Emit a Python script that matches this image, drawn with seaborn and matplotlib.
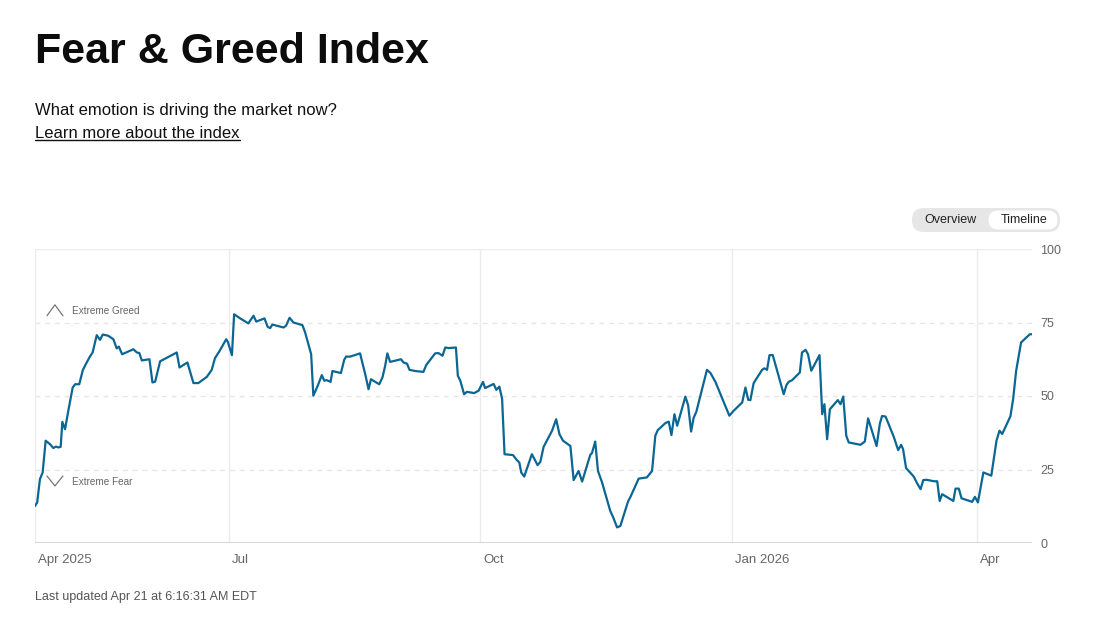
import pandas as pd
import numpy as np
import seaborn as sns
import matplotlib.pyplot as plt
from matplotlib.patches import FancyBboxPatch
from matplotlib.lines import Line2D
import matplotlib.transforms as mtransforms

# Data: days since 2025-04-21 and the index value
start = pd.Timestamp('2025-04-21')
days = [0.0, 0.8, 1.8, 2.8, 3.9, 5.5, 6.7, 7.7, 8.5, 9.4, 10.0, 11.0, 12.2, 13.8, 14.7, 16.2,
        17.5, 18.7, 20.1, 21.1, 22.6, 23.8, 24.8, 26.8, 28.7, 29.9, 30.7, 31.9, 36.0, 37.3,
        38.2, 39.1, 41.9, 43.0, 44.0, 45.8, 51.9, 52.9, 55.8, 58.0, 59.8, 62.9, 64.7, 65.9,
        67.5, 70.0, 70.6, 72.1, 72.9, 75.1, 78.1, 80.0, 81.0, 84.0, 85.2, 86.1, 86.9, 91.0,
        91.9, 93.2, 94.6, 97.9, 98.9, 100.1, 101.1, 101.9, 103.6, 105.0, 105.9, 106.8, 108.2,
        108.9, 112.0, 113.2, 113.9, 115.4, 119.0, 120.9, 122.1, 123.0, 126.0, 127.2, 128.2,
        129.0, 130.0, 134.0, 134.9, 136.2, 137.1, 139.2, 142.2, 143.2, 146.5, 147.7, 149.2,
        150.2, 151.4, 154.1, 154.8, 155.7, 157.1, 158.1, 160.8, 162.4, 164.0, 164.8, 167.9,
        168.9, 170.0, 171.0, 171.9, 175.0, 176.4, 177.3, 178.0, 179.1, 181.9, 184.0, 185.0,
        186.2, 189.3, 190.8, 192.0, 193.3, 196.0, 197.2, 199.0, 200.3, 203.3, 203.9, 205.1,
        206.1, 207.6, 210.6, 211.6, 213.1, 214.3, 217.1, 217.9, 221.0, 224.0, 225.9, 227.1,
        228.0, 230.8, 232.0, 233.0, 234.1, 235.1, 238.1, 239.1, 240.2, 241.1, 242.1, 246.0,
        247.3, 249.1, 254.2, 255.8, 258.9, 260.1, 261.1, 261.9, 263.1, 266.2, 267.0, 268.0,
        268.9, 270.1, 274.1, 275.1, 275.9, 277.2, 280.0, 280.8, 282.1, 283.0, 284.2, 287.2,
        288.2, 289.0, 290.0, 291.0, 293.9, 294.9, 295.9, 297.0, 297.9, 302.2, 303.8, 305.0,
        308.1, 309.3, 310.1, 311.4, 314.4, 316.0, 317.1, 317.8, 318.9, 321.7, 322.9, 324.2,
        325.2, 326.4, 329.1, 330.3, 331.2, 332.1, 336.2, 337.0, 338.2, 339.2, 343.1, 344.1,
        345.2, 347.2, 350.1, 352.0, 353.1, 354.1, 357.1, 358.1, 359.2, 361.0, 364.2, 365.0]
index_values = [12.6, 13.8, 21.7, 24.0, 34.8, 33.6, 32.3, 32.8, 32.5, 32.7, 41.2, 38.7, 45.0,
                52.9, 54.0, 54.0, 58.8, 61.0, 63.4, 64.8, 70.7, 69.1, 70.9, 70.5, 69.3, 66.2,
                66.8, 64.2, 65.9, 64.8, 64.6, 62.1, 62.5, 54.6, 54.9, 61.8, 64.8, 59.7, 61.4,
                54.4, 54.4, 56.5, 58.9, 62.9, 65.2, 69.3, 68.4, 63.9, 77.8, 76.4, 74.7, 77.3,
                75.3, 76.4, 73.5, 73.1, 74.3, 73.3, 73.9, 76.6, 75.0, 74.1, 71.6, 67.6, 64.2,
                50.1, 53.7, 57.1, 55.2, 55.4, 54.8, 58.5, 57.8, 62.3, 63.4, 63.4, 64.5, 57.4,
                52.3, 55.7, 54.0, 56.3, 60.3, 64.5, 61.6, 62.5, 61.4, 61.0, 58.9, 58.5, 58.2,
                60.5, 64.5, 64.6, 63.7, 66.5, 66.3, 66.5, 56.9, 55.2, 50.6, 51.4, 51.0, 51.8,
                54.8, 52.7, 54.1, 52.1, 53.2, 49.1, 30.2, 29.9, 28.2, 27.4, 24.0, 22.6, 30.2,
                26.5, 27.6, 32.7, 38.2, 42.1, 37.0, 34.8, 33.0, 21.4, 24.5, 20.9, 30.0, 30.6,
                34.5, 24.5, 20.6, 10.9, 8.9, 5.3, 5.8, 14.1, 15.5, 21.9, 22.3, 24.5, 36.5, 38.4,
                40.8, 41.3, 36.7, 43.8, 39.9, 49.8, 46.9, 37.9, 42.5, 44.6, 58.9, 57.8, 54.8,
                43.3, 45.0, 47.8, 52.9, 48.7, 48.6, 54.4, 58.9, 59.4, 58.9, 63.9, 63.9, 50.6,
                53.7, 54.8, 55.4, 58.0, 64.8, 65.7, 64.2, 58.6, 63.9, 43.8, 47.2, 35.3, 45.5,
                48.6, 47.2, 49.8, 36.5, 34.2, 33.4, 34.5, 42.4, 33.0, 40.6, 43.2, 43.0, 36.1,
                31.6, 33.4, 31.9, 25.5, 22.6, 20.4, 18.3, 21.4, 21.5, 21.0, 21.0, 14.3, 16.6,
                14.3, 18.5, 18.5, 15.2, 14.0, 15.7, 13.8, 24.0, 22.9, 34.8, 38.2, 37.1, 43.1,
                49.0, 58.6, 68.2, 71.0, 71.0]

tick_dates = ['2025-04-21', '2025-07-01', '2025-10-01', '2026-01-01', '2026-04-01']
tick_labels = ['Apr 2025', 'Jul', 'Oct', 'Jan 2026', 'Apr']
y_ticks = [0, 25, 50, 75, 100]

df = pd.DataFrame({'date': start + pd.to_timedelta(days, unit='D'), 'value': index_values})

sns.set_theme(style='white')
plt.rcParams['font.family'] = ['Liberation Sans', 'DejaVu Sans']

fig = plt.figure(figsize=(11.05, 6.2), dpi=100)
ax = fig.add_axes([35 / 1105, 77 / 620, 997 / 1105, 294 / 620])

sns.lineplot(data=df, x='date', y='value', ax=ax, color='#0b6694', linewidth=1.6)

ax.set_xlim(start, start + pd.Timedelta(days=365))
ax.set_ylim(0, 100)
for s in ax.spines.values():
    s.set_visible(False)

# grid
for v in [25, 50, 75]:
    ax.axhline(v, color='#e6e6e6', lw=1, ls=(0, (3.5, 3.5)), zorder=0)
ax.axhline(100, color='#ececec', lw=1, zorder=0)
ax.axhline(0, color='#cccccc', lw=1.8, zorder=1)
for d in tick_dates:
    ax.axvline(pd.Timestamp(d), color='#ececec', lw=1, zorder=0)

# ticks
ax.set_xticks([pd.Timestamp(d) for d in tick_dates])
ax.set_xticklabels(tick_labels, ha='left')
ax.yaxis.tick_right()
ax.set_yticks(y_ticks)
ax.tick_params(axis='x', length=0, pad=8, labelsize=9.5, labelcolor='#666666')
ax.tick_params(axis='y', length=0, pad=6, labelsize=9, labelcolor='#666666')
offset = mtransforms.ScaledTranslation(3 / 100, 0, fig.dpi_scale_trans)
for lbl in ax.get_xticklabels():
    lbl.set_transform(lbl.get_transform() + offset)
ax.set_xlabel('')
ax.set_ylabel('')

# zone markers
trans = mtransforms.blended_transform_factory(ax.transAxes, ax.transData)
ax.plot([0.012, 0.020, 0.028], [77.3, 81.0, 77.3], transform=trans, color='#777777', lw=0.9)
ax.plot([0.012, 0.020, 0.028], [22.8, 19.4, 22.8], transform=trans, color='#777777', lw=0.9)
ax.text(0.037, 78.9, 'Extreme Greed', transform=trans, fontsize=7.2, color='#666666', va='center')
ax.text(0.037, 20.6, 'Extreme Fear', transform=trans, fontsize=7.2, color='#666666', va='center')

# header
fig.text(35 / 1105, 1 - 52 / 620, 'Fear & Greed Index', fontsize=31, fontweight='bold',
         color='#0c0c0c', va='center')
fig.text(35 / 1105, 1 - 110 / 620, 'What emotion is driving the market now?', fontsize=12,
         color='#111111', va='center')
link = fig.text(35 / 1105, 1 - 133 / 620, 'Learn more about the index', fontsize=12,
                color='#111111', va='center')
fig.text(35 / 1105, 1 - 597 / 620, 'Last updated Apr 21 at 6:16:31 AM EDT', fontsize=9,
         color='#555555', va='center')

# toggle
fig.add_artist(FancyBboxPatch((9.12, 3.88), 1.48, 0.24, boxstyle='round,pad=0,rounding_size=0.12',
                              transform=fig.dpi_scale_trans, facecolor='#e6e6e6', edgecolor='none'))
fig.add_artist(FancyBboxPatch((9.885, 3.905), 0.69, 0.19, boxstyle='round,pad=0,rounding_size=0.095',
                              transform=fig.dpi_scale_trans, facecolor='white', edgecolor='none'))
fig.text(950 / 1105, 1 - 220 / 620, 'Overview', fontsize=9, color='#222222', ha='center', va='center')
fig.text(1024 / 1105, 1 - 220 / 620, 'Timeline', fontsize=9, color='#222222', ha='center', va='center')

# underline for link
fig.canvas.draw()
bb = link.get_window_extent()
fig.add_artist(Line2D([bb.x0, bb.x1], [bb.y0 + 1, bb.y0 + 1], transform=None, color='#111111', lw=1))

fig.savefig('out.png', dpi=100)
